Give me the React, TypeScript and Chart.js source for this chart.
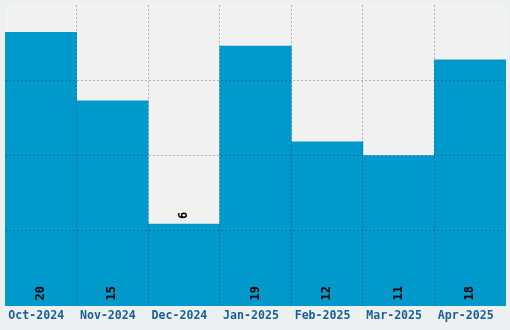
import React, { useEffect, useRef } from "react";
import { Chart, registerables } from "chart.js";

Chart.register(...registerables);

const categories = ["Oct-2024", "Nov-2024", "Dec-2024", "Jan-2025", "Feb-2025", "Mar-2025", "Apr-2025"];
const values = [20, 15, 6, 19, 12, 11, 18];
const yMax = 22;
const yStep = 5.5;

const barColor = "#0099cc";
const pageBg = "#edf0f0";
const plotBg = "#f1f1f1";
const labelColor = "#1a5e95";
const gridColor = "rgba(0,0,0,0.25)";
const monoFont = "'DejaVu Sans Mono', 'Liberation Mono', monospace";

const bgPlugin = {
  id: "bgPlugin",
  beforeDraw(chart: any) {
    const { ctx, chartArea } = chart;
    ctx.save();
    ctx.fillStyle = pageBg;
    ctx.fillRect(0, 0, chart.width, chart.height);
    ctx.fillStyle = plotBg;
    ctx.fillRect(chartArea.left, chartArea.top, chartArea.right - chartArea.left, chartArea.bottom - chartArea.top);
    ctx.restore();
  },
};

const valueLabelPlugin = {
  id: "valueLabelPlugin",
  afterDraw(chart: any) {
    const { ctx } = chart;
    const meta = chart.getDatasetMeta(0);
    const data = chart.data.datasets[0].data as number[];
    ctx.save();
    ctx.fillStyle = "#000";
    ctx.font = `bold 12px ${monoFont}`;
    ctx.textBaseline = "middle";
    meta.data.forEach((bar: any, i: number) => {
      const v = data[i];
      const h = bar.base - bar.y;
      const startY = h < 100 ? bar.y - 5 : bar.base - 5;
      ctx.save();
      ctx.translate(bar.x, startY);
      ctx.rotate(-Math.PI / 2);
      ctx.textAlign = "left";
      ctx.fillText(String(v), 0, 0);
      ctx.restore();
    });
    ctx.restore();
  },
};

export default function App() {
  const ref = useRef<HTMLCanvasElement | null>(null);
  useEffect(() => {
    document.body.style.margin = "0";
    const canvas = ref.current!;
    const chart = new Chart(canvas, {
      type: "bar",
      data: {
        labels: categories,
        datasets: [
          {
            data: values,
            backgroundColor: barColor,
            borderWidth: 0,
            barPercentage: 1,
            categoryPercentage: 1,
          },
        ],
      },
      options: {
        animation: false,
        responsive: false,
        maintainAspectRatio: false,
        layout: { padding: { left: 5, right: 4, top: 5, bottom: 4 } },
        plugins: { legend: { display: false }, tooltip: { enabled: false } },
        scales: {
          x: {
            offset: true,
            border: { display: false, dash: [2, 2] },
            grid: {
              z: 1,
              offset: true,
              drawTicks: false,
              lineWidth: 1,
              color: (c: any) =>
                c.type !== "tick" || c.index === 0 ? "rgba(0,0,0,0)" : gridColor,
            },
            ticks: {
              color: labelColor,
              font: { family: monoFont, size: 11.6, weight: "bold" },
              padding: 3,
              labelOffset: -4.5,
              maxRotation: 0,
              autoSkip: false,
            },
          },
          y: {
            min: 0,
            max: yMax,
            border: { display: false, dash: [2, 2] },
            grid: {
              z: 1,
              drawTicks: false,
              lineWidth: 1,
              color: (c: any) =>
                c.type !== "tick" || c.tick.value === 0 || c.tick.value === yMax ? "rgba(0,0,0,0)" : gridColor,
            },
            ticks: { display: false, stepSize: yStep },
          },
        },
      } as any,
      plugins: [bgPlugin, valueLabelPlugin],
    });
    return () => chart.destroy();
  }, []);
  return <canvas ref={ref} width={510} height={330} style={{ display: "block" }} />;
}
